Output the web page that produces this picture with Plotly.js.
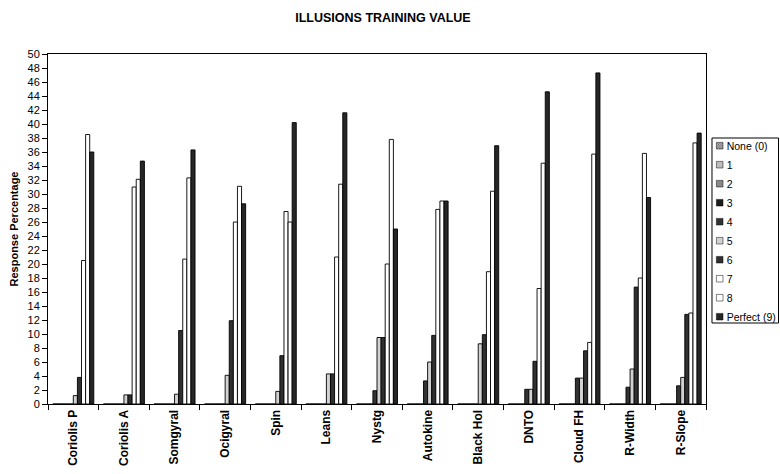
<!DOCTYPE html>
<html><head><meta charset="utf-8">
<script src="https://cdn.plot.ly/plotly-3.0.1.min.js"></script>
<style>
html,body{margin:0;padding:0;background:#fff;}
#chart{width:780px;height:474px;}
g.legend{transform:translate(699.7px,131.2px);}
.legend .legendtext{transform:translateX(-13px);}
.legend .legendpoints path{transform:translate(20px,0px) scale(0.55);}
</style></head><body><div id="chart"></div>
<script>
const categories = ["Coriolis P","Coriolis A","Somgyral","Ocigyral","Spin","Leans","Nystg","Autokine","Black Hol","DNTO","Cloud FH","R-Width","R-Slope"];
const seriesNames = ["None (0)","1","2","3","4","5","6","7","8","Perfect (9)"];
const none0 = [0,0,0,0,0,0,0,0,0,0,0,0,0];
const r1 = [0,0,0,0,0,0,0,0,0,0,0,0,0];
const r2 = [0,0,0,0,0,0,0,0,0,0,0,0,0];
const r3 = [0,0,0,0,0,0,0,0,0,0,0,0,0];
const r4 = [0,0,0,0,0,0,1.9,3.3,0,2.1,3.7,2.4,2.6];
const r5 = [1.2,1.3,1.4,4.1,1.8,4.3,9.5,6.0,8.6,2.1,3.7,5.0,3.8];
const r6 = [3.8,1.3,10.5,11.9,6.9,4.3,9.5,9.8,9.9,6.1,7.6,16.7,12.8];
const r7 = [20.5,31.0,20.7,26.0,27.5,21.0,20.0,27.8,18.9,16.5,8.8,18.0,13.0];
const r8 = [38.5,32.1,32.3,31.1,26.0,31.4,37.8,29.0,30.4,34.4,35.7,35.8,37.3];
const perfect9 = [36.0,34.7,36.3,28.6,40.2,41.6,25.0,29.0,36.9,44.6,47.3,29.5,38.7];
const yTicks = [0,2,4,6,8,10,12,14,16,18,20,22,24,26,28,30,32,34,36,38,40,42,44,46,48,50];

const allSeries = [none0,r1,r2,r3,r4,r5,r6,r7,r8,perfect9];
const fills = ["#b5b5b5","#ffffff","#a8a8a8","#1c1c1c","#333333","#d2d2d2","#303030","#ffffff","#ffffff","#262626"];
const patterns = ["x","-",".","","","","","","",""];

const traces = allSeries.map((vals,i)=>({
  type:"bar",
  name:seriesNames[i],
  x:categories,
  y:vals,
  marker:{
    color:fills[i],
    line:{color:"#000",width:0.9},
    pattern: patterns[i] ? {shape:patterns[i], fgcolor:"#222", bgcolor:fills[i], size:4, solidity:0.3} : {shape:""}
  },
  hoverinfo:"skip"
}));

const layout = {
  width:780, height:474,
  margin:{l:48, r:74, t:54, b:70, autoexpand:false},
  paper_bgcolor:"#fff", plot_bgcolor:"#fff",
  barmode:"group", bargap:0.19, bargroupgap:0,
  title:{text:"ILLUSIONS TRAINING VALUE", font:{family:"Liberation Sans, Arial", size:12.5, color:"#000", weight:"bold"},
         xref:"container", x:0.491, xanchor:"center", yref:"container", y:0.962, yanchor:"middle"},
  font:{family:"Liberation Sans, Arial", color:"#000"},
  xaxis:{type:"category", showline:true, linecolor:"#000", linewidth:1, mirror:true,
         ticks:"outside", tickson:"boundaries", ticklen:5, tickcolor:"#000",
         tickangle:-90, tickfont:{family:"Liberation Sans, Arial", size:12, weight:"bold", color:"#000"},
         showgrid:false, zeroline:false, automargin:false},
  yaxis:{range:[0,50], tickvals:yTicks, ticktext:yTicks.map(String), showline:true, linecolor:"#000", linewidth:1, mirror:true,
         ticks:"outside", ticklen:5, tickcolor:"#000", tickfont:{family:"Liberation Sans, Arial", size:11, color:"#000"},
         showgrid:false, zeroline:false, automargin:false,
         title:{text:"Response Percentage", font:{family:"Liberation Sans, Arial", size:11, weight:"bold", color:"#000"}, standoff:6}},
  showlegend:true,
  legend:{x:1.01, xanchor:"left", y:0.76, yanchor:"top", traceorder:"normal", bgcolor:"rgba(0,0,0,0)", borderwidth:0,
          font:{family:"Liberation Sans, Arial", size:10.5, color:"#000"}},
  shapes:[{type:"rect", xref:"paper", yref:"paper", x0:1.0091, x1:1.1102, y0:0.2314, y1:0.76, line:{color:"#000", width:1}, fillcolor:"rgba(0,0,0,0)"}]
};

Plotly.newPlot("chart", traces, layout, {staticPlot:true, displayModeBar:false});
</script></body></html>
